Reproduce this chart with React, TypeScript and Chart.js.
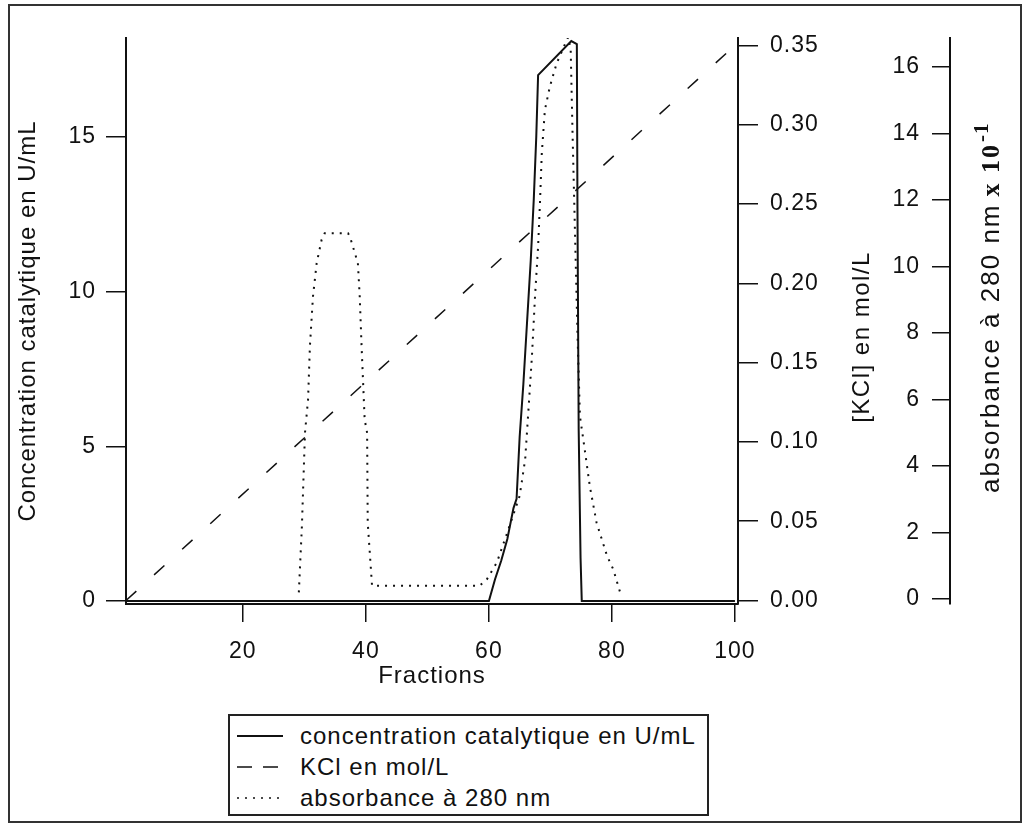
import React, { useEffect, useRef } from 'react';
import { Chart, registerables } from 'chart.js';

Chart.register(...registerables);

// ---------- data ----------
const seriesLabels = [
  'concentration catalytique en U/mL',
  'KCl en mol/L',
  'absorbance à 280 nm',
];

const enzymeFractions = [1, 60, 61, 62, 63, 64, 64.5, 65, 65.6, 66.2, 66.8, 67.3, 67.7, 68, 73.4, 74.3, 74.4, 74.6, 74.9, 75.1, 100];
const enzymeActivity = [0, 0, 0.7, 1.3, 2.0, 3.0, 3.3, 5.3, 7.0, 9.0, 11.0, 13.0, 15.0, 17.0, 18.1, 18.0, 12.7, 5.5, 1.4, 0, 0];

const kclFractions = [1, 100];
const kclConcentration = [0, 0.35];

const absFractions = [29.1, 29.6, 30.1, 30.6, 30.9, 31.4, 32.0, 32.8, 33.3, 37.1, 37.4, 38.7, 39.0, 39.3, 39.8, 40.2, 40.3, 41.0, 58.5, 59.7, 61.3, 63.0, 65.0, 65.9, 66.4, 67.0, 67.5, 68.0, 68.3, 68.6, 69.1, 69.9, 71.0, 72.4, 72.9, 73.3, 73.6, 74.0, 74.4, 74.8, 75.5, 76.4, 77.5, 79.2, 80.2, 81.5];
const absorbance = [0.2, 2.2, 5.0, 6.0, 7.6, 9.1, 10.1, 10.8, 11.0, 11.0, 10.9, 10.1, 9.1, 7.6, 5.4, 5.0, 2.3, 0.4, 0.4, 0.6, 1.1, 2.0, 3.1, 4.2, 5.6, 7.3, 9.1, 10.6, 11.9, 13.4, 14.7, 15.4, 16.1, 16.7, 16.9, 16.5, 14.0, 11.0, 8.0, 5.5, 4.6, 3.4, 2.3, 1.3, 0.9, 0.1];

const xTicks = [20, 40, 60, 80, 100];
const enzymeTicks = [0, 5, 10, 15];
const kclTicks = [0, 0.05, 0.1, 0.15, 0.2, 0.25, 0.3, 0.35];
const absTicks = [0, 2, 4, 6, 8, 10, 12, 14, 16];

const xTitle = 'Fractions';
const enzymeTitle = 'Concentration catalytique en U/mL';
const kclTitle = '[KCl] en mol/L';
const absTitleMain = 'absorbance à 280 nm';
const absTitleFactor = 'x 10';
const absTitleExp = '-1';

// ---------- styles ----------
const FONT = '"Liberation Sans", Arial, sans-serif';
const SERIF = '"Liberation Serif", "Times New Roman", serif';
const INK = '#111';

const setSpacing = (chart: any, v = '1px') => {
  (chart.ctx as any).letterSpacing = v;
};

const spacingPlugin = {
  id: 'letterSpacing',
  beforeUpdate: (chart: any) => setSpacing(chart),
  beforeLayout: (chart: any) => setSpacing(chart),
  beforeDraw: (chart: any) => setSpacing(chart),
};

const decorPlugin = {
  id: 'decor',
  afterDraw: (chart: any) => {
    const ctx = chart.ctx;
    const kcl = chart.scales.kcl;
    const abs = chart.scales.abs;
    const area = chart.chartArea;
    const midY = (area.top + area.bottom) / 2;

    // outer frame of the figure
    ctx.save();
    ctx.strokeStyle = '#333';
    ctx.lineWidth = 2;
    ctx.strokeRect(9, 5, 1012, 817);
    ctx.restore();

    // KCl title
    ctx.save();
    ctx.fillStyle = INK;
    (ctx as any).letterSpacing = '1.5px';
    ctx.font = `24px ${FONT}`;
    ctx.textAlign = 'center';
    ctx.textBaseline = 'alphabetic';
    ctx.translate(kcl.left + 131, midY + 16);
    ctx.rotate(-Math.PI / 2);
    ctx.fillText(kclTitle, 0, 0);
    ctx.restore();

    // absorbance title (mixed fonts)
    ctx.save();
    ctx.fillStyle = INK;
    ctx.textAlign = 'left';
    ctx.textBaseline = 'alphabetic';
    ctx.translate(abs.left + 49, midY + 172);
    ctx.rotate(-Math.PI / 2);
    (ctx as any).letterSpacing = '2px';
    ctx.font = `26px ${FONT}`;
    ctx.fillText(absTitleMain, 0, 0);
    let cx = ctx.measureText(absTitleMain).width + 7;
    ctx.font = `bold 26px ${SERIF}`;
    ctx.fillText(absTitleFactor, cx, 0);
    cx += ctx.measureText(absTitleFactor).width + 1;
    (ctx as any).letterSpacing = '1px';
    ctx.font = `bold 21px ${SERIF}`;
    ctx.fillText(absTitleExp, cx, -11);
    ctx.restore();
  },
};

const tickSetter = (values: number[]) => (scale: any) => {
  scale.ticks = values.map((v) => ({ value: v }));
};

export default function App() {
  const canvasRef = useRef<HTMLCanvasElement | null>(null);

  useEffect(() => {
    if (!canvasRef.current) return;
    const gridBase = {
      display: true,
      drawOnChartArea: false,
      drawTicks: true,
      color: INK,
      lineWidth: 1.5,
    };
    const borderBase = { display: true, color: INK, width: 2 };
    const tickFont = { family: FONT, size: 23 };
    const titleFont = { family: FONT, size: 24 };

    const chart = new Chart(canvasRef.current, {
      type: 'line',
      data: {
        datasets: [
          {
            label: seriesLabels[0],
            data: enzymeFractions.map((x, i) => ({ x, y: enzymeActivity[i] })),
            xAxisID: 'x',
            yAxisID: 'y',
            borderColor: INK,
            borderWidth: 2,
            pointRadius: 0,
            tension: 0,
            fill: false,
          },
          {
            label: seriesLabels[1],
            data: kclFractions.map((x, i) => ({ x, y: kclConcentration[i] })),
            xAxisID: 'x',
            yAxisID: 'kcl',
            borderColor: INK,
            borderWidth: 1.5,
            borderDash: [14, 24],
            pointRadius: 0,
            tension: 0,
            fill: false,
          },
          {
            label: seriesLabels[2],
            data: absFractions.map((x, i) => ({ x, y: absorbance[i] })),
            xAxisID: 'x',
            yAxisID: 'abs',
            borderColor: INK,
            borderWidth: 2,
            borderDash: [2, 6],
            pointRadius: 0,
            tension: 0,
            fill: false,
          },
        ],
      },
      options: {
        responsive: false,
        animation: false,
        events: [],
        layout: { padding: { left: 0, top: 38, right: 7, bottom: 134 } },
        plugins: {
          legend: { display: false },
          tooltip: { enabled: false },
        },
        scales: {
          x: {
            type: 'linear',
            position: 'bottom',
            min: 1,
            max: 100.5,
            afterBuildTicks: tickSetter(xTicks),
            afterFit: (s: any) => {
              s.height = 90;
            },
            grid: { ...gridBase, tickLength: 18 },
            border: borderBase,
            ticks: { color: INK, font: tickFont, padding: 16, maxRotation: 0, autoSkip: false },
            title: {
              display: true,
              text: xTitle,
              color: INK,
              font: titleFont,
              padding: { top: 0, bottom: 3 },
            },
          },
          y: {
            type: 'linear',
            position: 'left',
            min: -0.1,
            max: 18.2,
            afterBuildTicks: tickSetter(enzymeTicks),
            afterFit: (s: any) => {
              s.width = 126;
            },
            grid: { ...gridBase, tickLength: 20 },
            border: borderBase,
            ticks: { color: INK, font: tickFont, padding: 10, autoSkip: false },
            title: {
              display: true,
              text: enzymeTitle,
              color: INK,
              font: titleFont,
              padding: { top: 14, bottom: 0 },
            },
          },
          kcl: {
            type: 'linear',
            position: 'right',
            weight: 1,
            min: -0.0022,
            max: 0.3547,
            afterBuildTicks: tickSetter(kclTicks),
            afterFit: (s: any) => {
              s.width = 212;
            },
            grid: { ...gridBase, tickLength: 20 },
            border: borderBase,
            ticks: {
              color: INK,
              font: tickFont,
              padding: 12,
              autoSkip: false,
              callback: (v: any) => Number(v).toFixed(2),
            },
          },
          abs: {
            type: 'linear',
            position: 'right',
            weight: 2,
            min: -0.15,
            max: 16.87,
            afterBuildTicks: tickSetter(absTicks),
            afterFit: (s: any) => {
              s.width = 70;
            },
            grid: { ...gridBase, tickLength: -18 },
            border: borderBase,
            ticks: {
              color: INK,
              font: tickFont,
              mirror: true,
              padding: -30,
              autoSkip: false,
              callback: (v: any) => String(v),
            },
          },
        },
      } as any,
      plugins: [spacingPlugin, decorPlugin],
    });
    return () => chart.destroy();
  }, []);

  const rowStyle: React.CSSProperties = {
    height: 31,
    display: 'flex',
    alignItems: 'center',
    whiteSpace: 'nowrap',
  };
  const dashes = ['', '15 11', '2 6'];

  return (
    <div style={{ position: 'fixed', left: 0, top: 0, width: 1027, height: 828, background: '#fff', overflow: 'hidden' }}>
      <canvas ref={canvasRef} width={1027} height={828} style={{ position: 'absolute', left: 0, top: 0, display: 'block' }} />
      <div
        style={{
          position: 'absolute',
          left: 228,
          top: 714,
          width: 481,
          height: 102,
          border: '2px solid #222',
          boxSizing: 'border-box',
          background: '#fff',
          fontFamily: FONT,
          fontSize: 24,
          letterSpacing: '1px',
          color: INK,
          paddingTop: 4,
        }}
      >
        {seriesLabels.map((label, i) => (
          <div key={label} style={rowStyle}>
            <svg width={46} height={10} style={{ marginLeft: 7, marginRight: 17, flex: 'none' }}>
              <line
                x1={0}
                y1={5}
                x2={46}
                y2={5}
                stroke={INK}
                strokeWidth={i === 0 ? 2 : 1.6}
                strokeDasharray={dashes[i] || undefined}
              />
            </svg>
            <span>{label}</span>
          </div>
        ))}
      </div>
    </div>
  );
}
